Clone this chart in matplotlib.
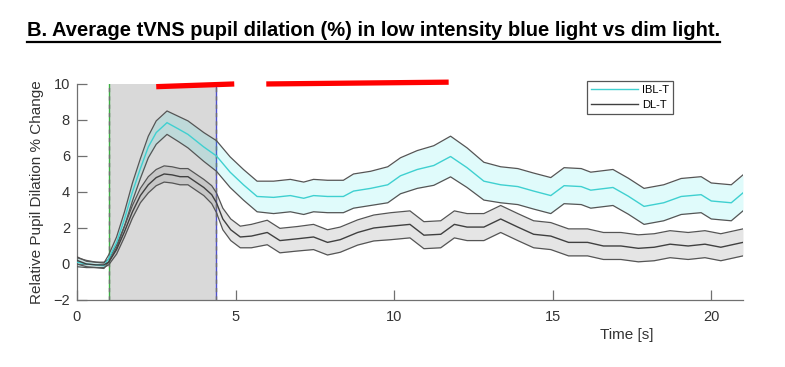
import matplotlib
matplotlib.use("Agg")
import matplotlib.pyplot as plt
from matplotlib.lines import Line2D
import numpy as np

# IBL-T (low intensity blue light) mean and half band width
ibl_t = [0, 0.3, 0.6, 0.85, 1.0, 1.25, 1.5, 1.75, 2.0, 2.25, 2.5, 2.84, 3.2, 3.5,
         4.0, 4.4, 4.83, 5.25, 5.68, 6.2, 6.73, 7.15, 7.46, 7.9, 8.4, 8.72, 9.26,
         9.8, 10.2, 10.73, 11.25, 11.78, 12.3, 12.83, 13.36, 13.9, 14.4, 14.94,
         15.36, 15.9, 16.2, 16.9, 17.38, 17.88, 18.5, 19.05, 19.68, 20.0, 20.63, 21.0]
ibl_mean = [0.1, 0.0, -0.05, -0.1, 0.3, 1.2, 2.5, 4.0, 5.3, 6.5, 7.3, 7.85, 7.5, 7.2,
            6.5, 6.0, 5.1, 4.4, 3.75, 3.7, 3.8, 3.65, 3.8, 3.75, 3.75, 4.05, 4.2,
            4.4, 4.9, 5.25, 5.47, 5.97, 5.35, 4.6, 4.4, 4.3, 4.05, 3.8,
            4.35, 4.3, 4.1, 4.25, 3.77, 3.2, 3.4, 3.75, 3.85, 3.5, 3.4, 3.95]
ibl_half = [0.25, 0.2, 0.15, 0.15, 0.2, 0.3, 0.4, 0.5, 0.55, 0.6, 0.65, 0.65, 0.7, 0.75,
            0.8, 0.85, 0.85, 0.85, 0.85, 0.9, 0.9, 0.9, 0.9, 0.9, 0.9, 0.95, 0.95,
            1.0, 1.0, 1.05, 1.1, 1.13, 1.1, 1.05, 1.0, 1.0, 1.0, 1.0,
            1.0, 1.0, 1.0, 1.0, 1.0, 1.0, 1.0, 1.0, 1.0, 1.0, 1.0, 1.0]

# DL-T (dim light) mean and half band width
dl_t = [0, 0.3, 0.6, 0.85, 1.0, 1.25, 1.5, 1.75, 2.0, 2.25, 2.5, 2.75, 3.0, 3.25, 3.5,
        3.75, 4.0, 4.25, 4.4, 4.6, 4.85, 5.15, 5.5, 6.0, 6.4, 6.95, 7.46, 7.9, 8.3,
        8.85, 9.36, 9.9, 10.5, 10.94, 11.47, 11.9, 12.3, 12.83, 13.36, 13.9, 14.4,
        14.94, 15.5, 16.1, 16.6, 17.15, 17.7, 18.2, 18.7, 19.27, 19.8, 20.3, 21.0]
dl_mean = [0.2, 0.0, -0.05, -0.05, 0.1, 0.8, 1.8, 2.9, 3.8, 4.4, 4.8, 5.0, 4.95, 4.85, 4.85,
           4.55, 4.25, 3.85, 3.4, 2.5, 1.9, 1.5, 1.55, 1.75, 1.3, 1.4, 1.5, 1.2, 1.35,
           1.75, 2.0, 2.1, 2.2, 1.6, 1.65, 2.2, 2.05, 2.05, 2.5, 2.05, 1.65,
           1.55, 1.2, 1.2, 1.0, 1.0, 0.87, 0.93, 1.1, 1.0, 1.1, 0.93, 1.2]
dl_half = [0.2, 0.15, 0.15, 0.15, 0.15, 0.25, 0.3, 0.35, 0.4, 0.45, 0.45, 0.45, 0.45, 0.45, 0.45,
           0.45, 0.45, 0.5, 0.55, 0.6, 0.6, 0.6, 0.65, 0.68, 0.68, 0.68, 0.7, 0.7, 0.7,
           0.7, 0.72, 0.75, 0.75, 0.75, 0.75, 0.75, 0.75, 0.75, 0.75, 0.75, 0.75,
           0.75, 0.75, 0.75, 0.75, 0.75, 0.75, 0.75, 0.75, 0.75, 0.75, 0.75, 0.75]

# stimulation window and significance bars
stim_on, stim_off = 1.0, 4.4
sig_start = [2.5, 5.97]
sig_end = [4.96, 11.72]
sig_y_start = [9.85, 10.0]
sig_y_end = [10.0, 10.1]

yticks = [-2, 0, 2, 4, 6, 8, 10]
xticks = [0, 5, 10, 15, 20]

plt.rcParams["font.family"] = ["Liberation Sans", "DejaVu Sans"]

fig = plt.figure(figsize=(7.85, 3.67), dpi=100)
ax = fig.add_axes([0.098, 0.1826, 0.8485, 0.5886])

ax.axvspan(stim_on, stim_off, color="#d9d9d9", lw=0, zorder=0)
ax.axvline(stim_on, color="#3cb043", lw=1, zorder=1)
ax.axvline(stim_on, color="#707070", lw=1, ls=(0, (3, 3)), zorder=1)
ax.axvline(stim_off, color="#5050d0", lw=1, zorder=1)
ax.axvline(stim_off, color="#707070", lw=1, ls=(0, (3, 3)), zorder=1)

for t, m, h, fill_c, fill_a, line_c in [
    (ibl_t, ibl_mean, ibl_half, "#00e0e0", 0.12, "#3fd0d0"),
    (dl_t, dl_mean, dl_half, "#808080", 0.2, "#404040"),
]:
    t = np.array(t)
    m = np.array(m)
    h = np.array(h)
    ax.fill_between(t, m - h, m + h, color=fill_c, alpha=fill_a, lw=0, zorder=2)
    ax.plot(t, m + h, color="#555555", lw=0.9, zorder=3)
    ax.plot(t, m - h, color="#555555", lw=0.9, zorder=3)
    ax.plot(t, m, color=line_c, lw=1.0, zorder=4)

for x0, x1, y0, y1 in zip(sig_start, sig_end, sig_y_start, sig_y_end):
    ax.plot([x0, x1], [y0, y1], color="#ff0000", lw=3.8, solid_capstyle="butt",
            clip_on=False, zorder=5)

ax.set_xlim(0, 21)
ax.set_ylim(-2, 10)
ax.set_xticks(xticks)
ax.set_yticks(yticks)
for s in ["top", "right"]:
    ax.spines[s].set_visible(False)
for s in ["left", "bottom"]:
    ax.spines[s].set_color("#707070")
    ax.spines[s].set_linewidth(0.9)
ax.tick_params(direction="in", length=7, width=0.9, color="#707070",
               labelsize=10.5, labelcolor="#333333", pad=5)
ax.tick_params(axis="x", pad=7)

ax.set_ylabel("Relative Pupil Dilation % Change", fontsize=11, color="#333333")
ax.yaxis.set_label_coords(-0.05, 0.5)
ax.set_xlabel("Time [s]", fontsize=11, color="#333333")
ax.xaxis.set_label_coords(0.826, -0.128)

handles = [Line2D([], [], color="#3fd0d0", lw=1), Line2D([], [], color="#404040", lw=1)]
leg = ax.legend(handles, ["IBL-T", "DL-T"], loc="upper right", bbox_to_anchor=(0.895, 1.015),
                fontsize=8, handlelength=4.2, fancybox=False, framealpha=1,
                edgecolor="#555555", borderpad=0.35, labelspacing=0.45, handletextpad=0.4,
                borderaxespad=0)
leg.get_frame().set_linewidth(0.9)

title = fig.text(27 / 785, 1 - 31 / 367,
                 "B. Average tVNS pupil dilation (%) in low intensity blue light vs dim light.",
                 fontsize=15, fontweight="bold", family=["Liberation Sans", "DejaVu Sans"],
                 color="black", ha="left", va="center")
fig.canvas.draw()
bb = title.get_window_extent()
# fit the title to the reference width
target_w = 696
title.set_fontsize(15 * target_w / bb.width)
fig.canvas.draw()
bb = title.get_window_extent()
uy = bb.y0 - 1
fig.add_artist(Line2D([bb.x0 / 785, bb.x1 / 785], [uy / 367, uy / 367],
                      color="black", lw=1.6, transform=fig.transFigure))

fig.savefig("out.png", dpi=100)
